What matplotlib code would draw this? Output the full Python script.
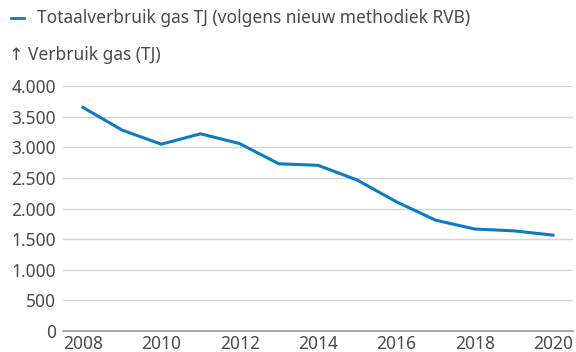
import matplotlib
matplotlib.use("Agg")
import matplotlib.pyplot as plt
from matplotlib.ticker import FuncFormatter

plt.rcParams['font.family'] = ['Noto Sans', 'DejaVu Sans']

years = [2008, 2009, 2010, 2011, 2012, 2013, 2014, 2015, 2016, 2017, 2018, 2019, 2020]
gas_tj = [3650, 3280, 3050, 3220, 3060, 2730, 2705, 2465, 2110, 1810, 1665, 1635, 1565]
yticks = [0, 500, 1000, 1500, 2000, 2500, 3000, 3500, 4000]
xticks = [2008, 2010, 2012, 2014, 2016, 2018, 2020]

blue = '#0a7bc4'
text_col = '#4a4a4a'
fs = 12.5

fig = plt.figure(figsize=(5.76, 3.52), dpi=100)
ax = fig.add_axes([63 / 576, 1 - 331 / 352, (573 - 63) / 576, (331 - 86) / 352])

ax.plot(years, gas_tj, color=blue, linewidth=2.2, solid_joinstyle='round')

ax.set_xlim(2007.49, 2020.51)
ax.set_ylim(0, 4000)
ax.set_yticks(yticks)
ax.set_xticks(xticks)
ax.yaxis.set_major_formatter(FuncFormatter(lambda v, p: f"{int(v):,}".replace(",", ".")))

ax.grid(axis='y', color='#d4d4d4', linewidth=1)
ax.set_axisbelow(True)
for s in ['top', 'right', 'left']:
    ax.spines[s].set_visible(False)
ax.spines['bottom'].set_color('#999999')
ax.spines['bottom'].set_linewidth(1.2)
ax.tick_params(axis='both', length=0, labelsize=fs, labelcolor=text_col)
ax.tick_params(axis='y', pad=5)
ax.tick_params(axis='x', pad=3)

# legend and axis title above the plot
fig.lines.append(plt.Line2D([11 / 576, 24 / 576], [1 - 18 / 352] * 2, color=blue,
                            linewidth=2, transform=fig.transFigure))
fig.text(37 / 576, 1 - 18 / 352, 'Totaalverbruik gas TJ (volgens nieuw methodiek RVB)',
         fontsize=fs, color=text_col, va='center')
fig.text(9 / 576, 1 - 55 / 352, '↑ Verbruik gas (TJ)', fontsize=fs, color=text_col, va='center')

fig.savefig('out.png', dpi=100)
